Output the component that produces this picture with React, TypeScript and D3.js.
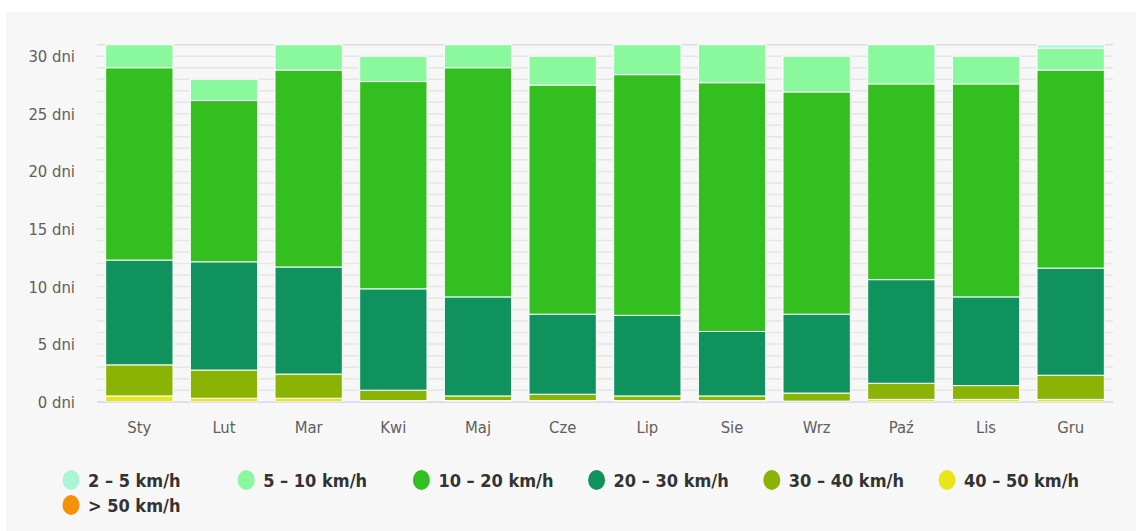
import * as d3 from "d3";

const months = ["Sty", "Lut", "Mar", "Kwi", "Maj", "Cze", "Lip", "Sie", "Wrz", "Paź", "Lis", "Gru"];

// days per month for each wind speed range
const s2to5 = [0, 0, 0, 0, 0, 0, 0, 0, 0, 0, 0, 0.3];
const s5to10 = [2.0, 1.85, 2.2, 2.2, 2.0, 2.5, 2.6, 3.3, 3.1, 3.4, 2.4, 1.9];
const s10to20 = [16.7, 14.0, 17.1, 18.0, 19.9, 19.9, 20.9, 21.6, 19.3, 17.0, 18.5, 17.2];
const s20to30 = [9.1, 9.4, 9.3, 8.8, 8.6, 6.95, 7.0, 5.6, 6.85, 9.0, 7.7, 9.3];
const s30to40 = [2.7, 2.45, 2.1, 0.9, 0.4, 0.55, 0.4, 0.4, 0.7, 1.4, 1.2, 2.1];
const s40to50 = [0.5, 0.3, 0.3, 0.1, 0.1, 0.1, 0.1, 0.1, 0.05, 0.2, 0.2, 0.2];
const s50plus = [0, 0, 0, 0, 0, 0, 0, 0, 0, 0, 0, 0];

const yTicks = [0, 5, 10, 15, 20, 25, 30];

const series = [
  { name: "2 – 5 km/h", color: "#a9f6d6", values: s2to5 },
  { name: "5 – 10 km/h", color: "#8af89d", values: s5to10 },
  { name: "10 – 20 km/h", color: "#33bf1f", values: s10to20 },
  { name: "20 – 30 km/h", color: "#0f925e", values: s20to30 },
  { name: "30 – 40 km/h", color: "#8bb306", values: s30to40 },
  { name: "40 – 50 km/h", color: "#e6e619", values: s40to50 },
  { name: "> 50 km/h", color: "#f39207", values: s50plus },
];

const W = 1136;
const H = 531;
const FONT = "'DejaVu Sans Condensed', 'DejaVu Sans', sans-serif";

export default function App() {
  const left = 97;
  const right = 1113;
  const x = d3.scaleBand<string>().domain(months).range([left, right]).paddingInner(0.205).paddingOuter(0.1025);
  const y = d3.scaleLinear().domain([0, 31]).range([401.7, 44.7]);

  // stack bottom-up: highest speed at the bottom
  const keys = series.map((s) => s.name).reverse();
  const rows = months.map((m, i) => {
    const r: Record<string, number | string> = { month: m };
    series.forEach((s) => (r[s.name] = s.values[i]));
    return r;
  });
  const stacked = d3.stack<Record<string, number | string>>().keys(keys)(rows as any);
  const colorOf = (k: string) => series.find((s) => s.name === k)!.color;

  const gridVals = d3.range(0, 32);

  return (
    <div style={{ position: "fixed", left: 0, top: 0 }}>
      <svg width={W} height={H} style={{ display: "block" }}>
        <rect x={0} y={0} width={W} height={H} fill="#ffffff" />
        <rect x={6} y={12} width={W - 6} height={H - 12} fill="#f7f7f7" />

        {/* grid */}
        {gridVals.map((v) => (
          <line
            key={v}
            x1={left}
            x2={right}
            y1={y(v)}
            y2={y(v)}
            stroke={v === 31 ? "#dedede" : "#e6e6e6"}
            strokeWidth={1.5}
          />
        ))}

        {/* bars */}
        {stacked.map((layer) => (
          <g key={layer.key} fill={colorOf(layer.key)}>
            {layer.map((d, i) =>
              d[1] - d[0] > 0 ? (
                <rect
                  key={i}
                  x={x(months[i])!}
                  width={x.bandwidth()}
                  y={y(d[1])}
                  height={y(d[0]) - y(d[1])}
                  stroke="#ffffff"
                  strokeWidth={1}
                />
              ) : null
            )}
          </g>
        ))}

        {/* x axis line */}
        <line x1={left} x2={right} y1={y(0) + 0.5} y2={y(0) + 0.5} stroke="#ccd6eb" strokeWidth={1} />

        {/* y labels */}
        {yTicks.map((t) => (
          <text
            key={t}
            x={75}
            y={y(t) + 6}
            textAnchor="end"
            fontFamily={FONT}
            fontSize={16.5}
            fill="#606060"
          >
            {t} dni
          </text>
        ))}

        {/* x labels */}
        {months.map((m) => (
          <text
            key={m}
            x={x(m)! + x.bandwidth() / 2}
            y={433}
            textAnchor="middle"
            fontFamily={FONT}
            fontSize={16.5}
            fill="#606060"
          >
            {m}
          </text>
        ))}

        {/* legend */}
        {series.map((s, i) => {
          const col = i % 6;
          const row = Math.floor(i / 6);
          const cx = 71 + col * 175.2;
          const cy = 480 + row * 25;
          return (
            <g key={s.name}>
              <ellipse cx={cx} cy={cy} rx={8.5} ry={10} fill={s.color} />
              <text
                x={cx + 17}
                y={cy + 7}
                fontFamily={FONT}
                fontSize={18}
                fontWeight="bold"
                fill="#333333"
              >
                {s.name}
              </text>
            </g>
          );
        })}
      </svg>
    </div>
  );
}
